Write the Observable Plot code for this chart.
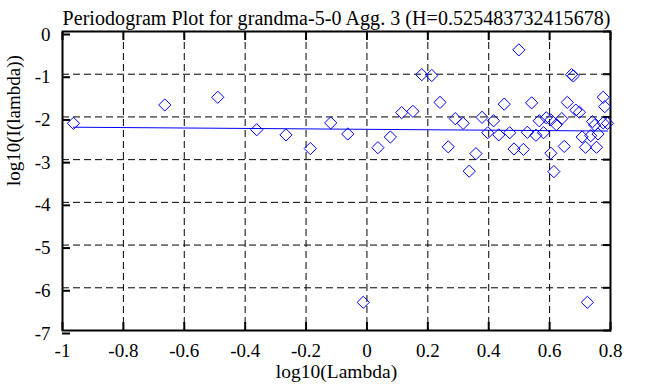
<!DOCTYPE html>
<html>
<head>
<meta charset="utf-8">
<script src="https://cdn.jsdelivr.net/npm/d3@7"></script>
<script src="https://cdn.jsdelivr.net/npm/@observablehq/plot@0.6"></script>
<style>
  html, body { margin: 0; padding: 0; background: #fff; }
  svg { display: block; }
  svg text { font-family: 'Liberation Serif', 'Times New Roman', serif !important; }
</style>
</head>
<body>
<div id="chart"></div>
<script>
const title = "Periodogram Plot for grandma-5-0 Agg. 3 (H=0.525483732415678)";
const xLabel = "log10(Lambda)";
const yLabel = "log10(I(lambda))";

const logLambda = [
  -0.964, -0.664, -0.490, -0.362, -0.266, -0.186, -0.119, -0.063, -0.012, 0.036,
  0.077, 0.114, 0.151, 0.180, 0.213, 0.240, 0.267, 0.290, 0.316, 0.336,
  0.358, 0.378, 0.397, 0.416, 0.433, 0.451, 0.469, 0.483, 0.499, 0.514,
  0.527, 0.541, 0.555, 0.566, 0.580, 0.589, 0.604, 0.604, 0.614, 0.622,
  0.640, 0.648, 0.658, 0.672, 0.678, 0.686, 0.698, 0.707, 0.718, 0.724,
  0.735, 0.741, 0.748, 0.754, 0.759, 0.776, 0.781, 0.776, 0.790
];
const logI = [
  -2.15, -1.72, -1.54, -2.30, -2.42, -2.74, -2.14, -2.40, -6.34, -2.72,
  -2.47, -1.90, -1.87, -1.01, -1.03, -1.66, -2.70, -2.04, -2.15, -3.27,
  -2.86, -2.01, -2.37, -2.09, -2.42, -1.70, -2.37, -2.75, -0.43, -2.76,
  -2.36, -1.67, -2.43, -2.09, -2.37, -2.02, -2.07, -2.85, -3.28, -2.18,
  -2.04, -2.69, -1.66, -1.01, -1.04, -1.84, -1.89, -2.47, -2.71, -6.34,
  -2.44, -2.11, -2.19, -2.71, -2.40, -1.54, -1.76, -2.14, -2.15
];

const xTicks = [-1, -0.8, -0.6, -0.4, -0.2, 0, 0.2, 0.4, 0.6, 0.8];
const yTicks = [0, -1, -2, -3, -4, -5, -6, -7];

const H = 0.525483732415678;
const fitSlope = 1 - 2 * H;
const fitIntercept = -2.29;

const points = logLambda.map((x, i) => ({x, y: logI[i]}));
const fitLine = d3.extent(logLambda).map(x => ({x, y: fitIntercept + fitSlope * x}));

const fmt = d => String(d);
const font = "'Liberation Serif', 'Times New Roman', serif";
const gridStyle = {stroke: "#000", strokeOpacity: 1, strokeWidth: 1, strokeDasharray: "7,4"};

const chart = Plot.plot({
  width: 648,
  height: 387,
  marginLeft: 62,
  marginRight: 38,
  marginTop: 31,
  marginBottom: 57,
  style: {fontFamily: font, fontSize: "19px", background: "#fff", color: "#000"},
  x: {domain: [-1, 0.8], label: null},
  y: {domain: [-7, 0], label: null},
  marks: [
    Plot.gridX(xTicks, gridStyle),
    Plot.gridY(yTicks, gridStyle),
    Plot.axisX(xTicks, {anchor: "bottom", tickSize: -8, tickPadding: 21, tickFormat: fmt, strokeWidth: 2, label: null, fontSize: 19, fontFamily: font}),
    Plot.axisX(xTicks, {anchor: "top", tickSize: -8, tickFormat: () => "", strokeWidth: 2, label: null}),
    Plot.axisY(yTicks, {anchor: "left", tickSize: -8, tickPadding: 20, tickFormat: fmt, strokeWidth: 2, label: null, dy: 3, fontSize: 19, fontFamily: font}),
    Plot.axisY(yTicks, {anchor: "right", tickSize: -8, tickFormat: () => "", strokeWidth: 2, label: null}),
    Plot.frame({stroke: "#000", strokeWidth: 2}),
    Plot.line(fitLine, {x: "x", y: "y", stroke: "#0000ff", strokeWidth: 1}),
    Plot.dot(points, {x: "x", y: "y", symbol: "diamond2", r: 5.5, stroke: "#0000ff", fill: "none", strokeWidth: 1}),
    Plot.text([title], {frameAnchor: "top", dy: -21, text: d => d, fontSize: 20, fontFamily: font, fill: "#000"}),
    Plot.text([xLabel], {frameAnchor: "bottom", dy: 47, text: d => d, fontSize: 19.5, fontFamily: font, fill: "#000"}),
    Plot.text([yLabel], {frameAnchor: "left", dx: -49, dy: 5, rotate: -90, text: d => d, fontSize: 19, fontFamily: font, fill: "#000"})
  ]
});
// stretch the title slightly to match the wide bitmap font of the original
d3.select(chart).selectAll("text").filter(function () { return this.textContent === title; })
  .attr("textLength", 548).attr("lengthAdjust", "spacing");
document.getElementById("chart").appendChild(chart);
</script>
</body>
</html>
